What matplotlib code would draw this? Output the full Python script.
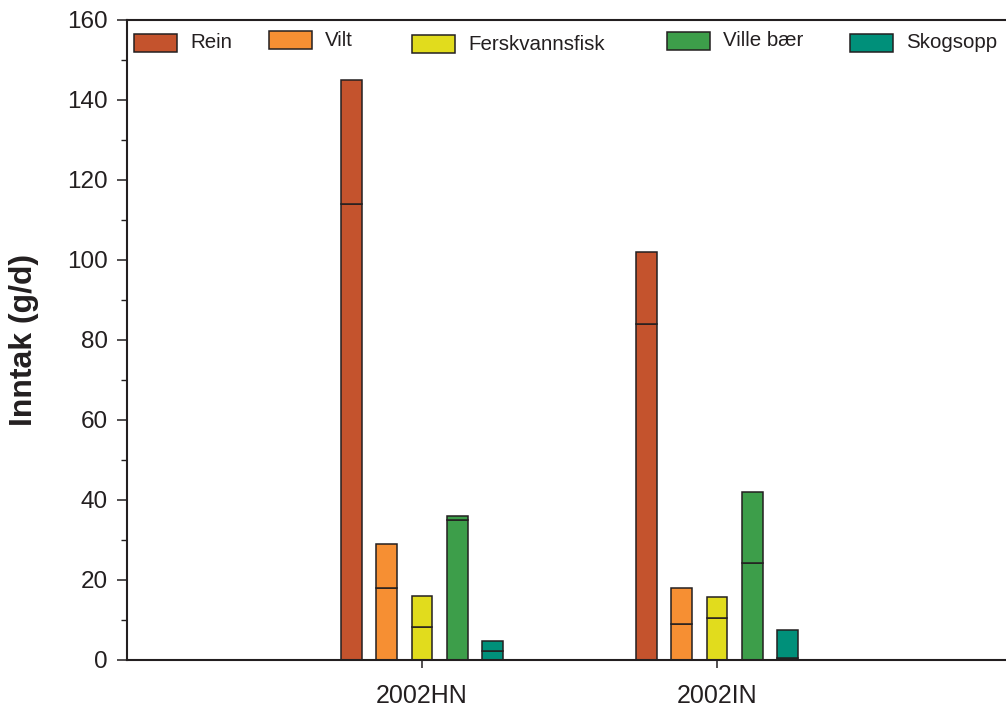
import matplotlib
matplotlib.use("Agg")
import matplotlib.pyplot as plt
from matplotlib.patches import Rectangle
from matplotlib.ticker import MultipleLocator
import numpy as np

plt.rcParams['font.family'] = ['Liberation Sans', 'DejaVu Sans']

groups = ["2002HN", "2002IN"]
foods = ["Rein", "Vilt", "Ferskvannsfisk", "Ville bær", "Skogsopp"]
colors = ["#C4532D", "#F68F33", "#E1DC1D", "#3D9E4A", "#00907A"]

# inner line level and total bar height per food, for each group
inner_hn = [114, 18, 8.2, 35, 2.2]
total_hn = [145, 29, 16, 36, 4.7]
inner_in = [84, 9, 10.4, 24.2, 0.4]
total_in = [102, 18, 15.7, 42, 7.6]

inner = np.array([inner_hn, inner_in])
total = np.array([total_hn, total_in])

edge = "#231F20"
W, H = 1006, 711
fig = plt.figure(figsize=(W / 100, H / 100), dpi=100)
ax = fig.add_axes([127 / W, (H - 660) / H, 885 / W, 640 / H])

x = np.arange(len(groups))
step = 0.12
bw = 0.071
for i, (food, c) in enumerate(zip(foods, colors)):
    pos = x + (i - 2) * step
    ax.bar(pos, inner[:, i], width=bw, color=c, edgecolor=edge, linewidth=1.1, zorder=2)
    ax.bar(pos, total[:, i] - inner[:, i], bottom=inner[:, i], width=bw, color=c,
           edgecolor=edge, linewidth=1.1, zorder=2)

ax.set_xlim(-1, 2)
ax.set_ylim(0, 160)
ax.set_xticks(x)
ax.set_xticklabels(groups, fontsize=18, color="#231F20")
ax.yaxis.set_major_locator(MultipleLocator(20))
ax.yaxis.set_minor_locator(MultipleLocator(10))
ax.tick_params(axis='y', which='major', length=7, width=1.1, direction='out',
               labelsize=17.5, pad=7, colors="#231F20")
ax.tick_params(axis='y', which='minor', length=4, width=1.0, direction='out', colors="#231F20")
ax.tick_params(axis='x', which='major', length=6, width=1.1, direction='out', pad=11,
               colors="#231F20")
ax.set_ylabel("Inntak (g/d)", fontsize=23, fontweight='bold', labelpad=20, color="#231F20")

for s in ['left', 'bottom', 'top']:
    ax.spines[s].set_linewidth(1.5)
    ax.spines[s].set_color(edge)
ax.spines['right'].set_visible(False)

# legend entries placed across the top of the plot area
legend_pos = [(134, 34), (269, 31), (412, 35), (667, 32), (850, 34)]
pw, ph = 43, 18
for (px, py), food, c in zip(legend_pos, foods, colors):
    fig.patches.append(Rectangle((px / W, (H - py - ph) / H), pw / W, ph / H,
                                 transform=fig.transFigure, facecolor=c,
                                 edgecolor=edge, linewidth=1.1))
    fig.text((px + pw + 13) / W, (H - py - ph / 2) / H, food, fontsize=14.8,
             va='center', ha='left', color="#231F20")

fig.savefig("out.png", dpi=100)
